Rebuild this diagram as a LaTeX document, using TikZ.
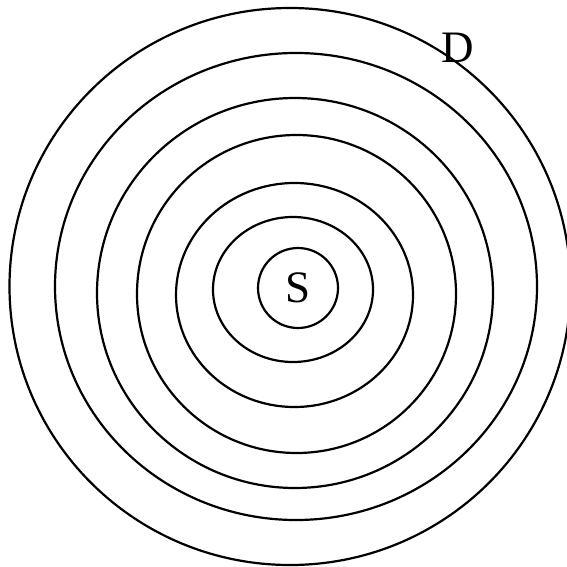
\documentclass[tikz,border=0pt]{standalone}
\usepackage{fontspec}
\setmainfont{Liberation Serif}
\usetikzlibrary{positioning}

\begin{document}
\begin{tikzpicture}[x=1pt,y=-1pt,
    ring/.style={draw, line width=2.2pt},
    lbl/.style={font=\fontsize{45}{45}\selectfont, inner sep=0pt}]
  \useasboundingbox (0,0) rectangle (567,567);
  \clip (0,0) rectangle (567,567);
  % rings spreading from the source
  \foreach \cx/\cy/\rx/\ry in {293/289.5/80/72.5, 294.5/295/118.5/112,
      296.5/294/159.5/159, 295/293/198/195, 296/286.5/241/233.5,
      290/286.5/280.5/278.5}
    \draw[ring] (\cx,\cy) ellipse ({\rx pt} and {\ry pt});
  \node[ring, circle, minimum size=80pt, lbl] (src) at (298,288) {S};
  \node[lbl] (dst) at (458,47.5) {D};
\end{tikzpicture}
\end{document}
